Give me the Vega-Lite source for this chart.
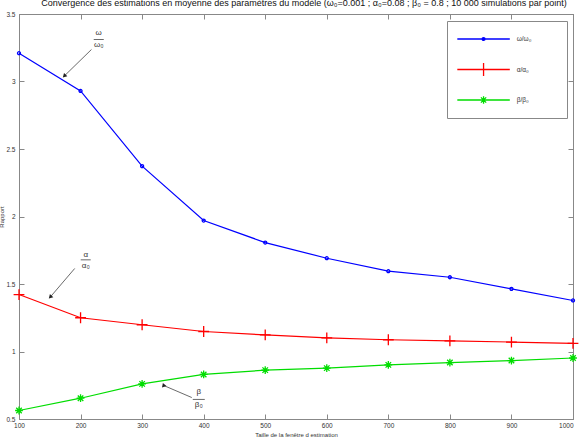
{
  "$schema": "https://vega.github.io/schema/vega-lite/v6.json",
  "width": 554,
  "height": 405,
  "autosize": "none",
  "padding": {"left": 19, "top": 14, "right": 6, "bottom": 23},
  "background": "white",
  "title": {
    "text": "Convergence des estimations en moyenne des paramètres du modèle (ω₀=0.001 ; α₀=0.08 ; β₀ = 0.8 ; 10 000 simulations par point)",
    "font": "Liberation Sans",
    "fontSize": 9,
    "fontWeight": "normal",
    "color": "#111111",
    "anchor": "middle",
    "frame": "group",
    "baseline": "alphabetic",
    "offset": -4,
    "dx": 8
  },
  "datasets": {
    "series": [
      {"x": 100, "value": 3.21, "series": "ω/ω₀"},
      {"x": 200, "value": 2.93, "series": "ω/ω₀"},
      {"x": 300, "value": 2.373, "series": "ω/ω₀"},
      {"x": 400, "value": 1.97, "series": "ω/ω₀"},
      {"x": 500, "value": 1.807, "series": "ω/ω₀"},
      {"x": 600, "value": 1.691, "series": "ω/ω₀"},
      {"x": 700, "value": 1.595, "series": "ω/ω₀"},
      {"x": 800, "value": 1.55, "series": "ω/ω₀"},
      {"x": 900, "value": 1.464, "series": "ω/ω₀"},
      {"x": 1000, "value": 1.378, "series": "ω/ω₀"},
      {"x": 100, "value": 1.422, "series": "α/α₀"},
      {"x": 200, "value": 1.25, "series": "α/α₀"},
      {"x": 300, "value": 1.198, "series": "α/α₀"},
      {"x": 400, "value": 1.148, "series": "α/α₀"},
      {"x": 500, "value": 1.123, "series": "α/α₀"},
      {"x": 600, "value": 1.101, "series": "α/α₀"},
      {"x": 700, "value": 1.087, "series": "α/α₀"},
      {"x": 800, "value": 1.078, "series": "α/α₀"},
      {"x": 900, "value": 1.07, "series": "α/α₀"},
      {"x": 1000, "value": 1.06, "series": "α/α₀"},
      {"x": 100, "value": 0.563, "series": "β/β₀"},
      {"x": 200, "value": 0.654, "series": "β/β₀"},
      {"x": 300, "value": 0.76, "series": "β/β₀"},
      {"x": 400, "value": 0.83, "series": "β/β₀"},
      {"x": 500, "value": 0.862, "series": "β/β₀"},
      {"x": 600, "value": 0.877, "series": "β/β₀"},
      {"x": 700, "value": 0.901, "series": "β/β₀"},
      {"x": 800, "value": 0.918, "series": "β/β₀"},
      {"x": 900, "value": 0.933, "series": "β/β₀"},
      {"x": 1000, "value": 0.952, "series": "β/β₀"}
    ],
    "labels": [
      {"x": 229.5, "y": 3.356, "text": "ω"},
      {"x": 229.5, "y": 3.267, "text": "ω₀"},
      {"x": 208.4, "y": 1.716, "text": "α"},
      {"x": 208.4, "y": 1.637, "text": "α₀"},
      {"x": 392.1, "y": 0.699, "text": "β"},
      {"x": 392.1, "y": 0.605, "text": "β₀"}
    ],
    "bars": [
      {"x": 221.4, "x2": 237.7, "y": 3.311},
      {"x": 200.3, "x2": 216.5, "y": 1.679},
      {"x": 382.3, "x2": 401.8, "y": 0.645}
    ],
    "arrows": [
      {"id": "omega", "x": 217.7, "y": 3.237, "x2": 174.3, "y2": 3.044},
      {"id": "alpha", "x": 190.5, "y": 1.615, "x2": 151.5, "y2": 1.407},
      {"id": "beta", "x": 380.7, "y": 0.659, "x2": 335.2, "y2": 0.748}
    ]
  },
  "config": {
    "view": {"stroke": "#888888", "strokeWidth": 1},
    "axis": {
      "domainColor": "#888888",
      "tickColor": "#888888",
      "tickSize": -5,
      "labelFont": "Liberation Sans",
      "labelFontSize": 6.5,
      "labelColor": "#333333",
      "labelFlush": false,
      "labelOverlap": false,
      "titleFont": "Liberation Sans",
      "titleFontSize": 6,
      "titleFontWeight": "normal",
      "titleColor": "#333333",
      "grid": false
    }
  },
  "resolve": {
    "axis": {"x": "independent", "y": "independent"},
    "scale": {"color": "independent", "shape": "independent"}
  },
  "layer": [
    {
      "mark": {"type": "rule", "color": "#b4b4b4", "strokeWidth": 2},
      "encoding": {
        "y": {"datum": 1, "type": "quantitative", "scale": {"domain": [0.5, 3.5], "nice": false, "zero": false}, "axis": null}
      }
    },
    {
      "data": {"name": "series"},
      "mark": {"type": "line", "strokeWidth": 1.2},
      "encoding": {
        "x": {"field": "x", "type": "quantitative", "scale": {"domain": [100, 1000], "nice": false, "zero": false},
              "axis": {"orient": "bottom", "values": [100, 200, 300, 400, 500, 600, 700, 800, 900, 1000], "format": "d", "labelPadding": 8,
                       "labelAlign": {"expr": "datum.value == 1000 ? 'right' : 'center'"},
                       "title": "Taille de la fenêtre d estimation", "titlePadding": 3}},
        "y": {"field": "value", "type": "quantitative", "scale": {"domain": [0.5, 3.5], "nice": false, "zero": false},
              "axis": {"orient": "left", "values": [0.5, 1, 1.5, 2, 2.5, 3, 3.5], "format": "~g", "labelPadding": 9, "title": "Rapport", "titlePadding": 1}},
        "color": {"field": "series", "type": "nominal", "scale": {"domain": ["ω/ω₀", "α/α₀", "β/β₀"], "range": ["#0000ff", "#ff0000", "#00dd00"]}, "legend": null}
      }
    },
    {
      "data": {"name": "series"},
      "mark": {"type": "point", "filled": false, "strokeWidth": 1.3, "size": 144, "opacity": 1},
      "encoding": {
        "x": {"field": "x", "type": "quantitative", "scale": {"domain": [100, 1000], "nice": false, "zero": false},
              "axis": {"orient": "top", "values": [100, 200, 300, 400, 500, 600, 700, 800, 900, 1000], "labels": false, "title": null}},
        "y": {"field": "value", "type": "quantitative", "scale": {"domain": [0.5, 3.5], "nice": false, "zero": false},
              "axis": {"orient": "right", "values": [0.5, 1, 1.5, 2, 2.5, 3, 3.5], "labels": false, "title": null}},
        "color": {"field": "series", "type": "nominal", "scale": {"domain": ["ω/ω₀", "α/α₀", "β/β₀"], "range": ["#0000ff", "#ff0000", "#00dd00"]}, "legend": null},
        "shape": {"field": "series", "type": "nominal", "scale": {"domain": ["ω/ω₀", "α/α₀", "β/β₀"], "range": [
          "M-0.25,0A0.25,0.25 0 1,0 0.25,0A0.25,0.25 0 1,0 -0.25,0",
          "M-0.9,0L0.9,0M0,-0.9L0,0.9",
          "M-0.65,0L0.65,0M0,-0.65L0,0.65M-0.46,-0.46L0.46,0.46M-0.46,0.46L0.46,-0.46"
        ]}, "legend": null}
      }
    },
    {
      "data": {"name": "series"},
      "transform": [{"filter": "false"}],
      "mark": {"type": "point", "filled": false, "strokeWidth": 1.3},
      "encoding": {
        "x": {"field": "x", "type": "quantitative", "scale": {"domain": [100, 1000], "nice": false, "zero": false}, "axis": null},
        "y": {"field": "value", "type": "quantitative", "scale": {"domain": [0.5, 3.5], "nice": false, "zero": false}, "axis": null},
        "color": {"field": "series", "type": "nominal", "scale": {"domain": ["ω/ω₀", "α/α₀", "β/β₀"], "range": ["#0000ff", "#ff0000", "#00dd00"]},
          "legend": {"orient": "none", "legendX": 428, "legendY": 7, "title": "nnnnnn", "titleOrient": "right", "titleOpacity": 0, "titlePadding": 5,
                     "titleFont": "Liberation Sans", "titleFontSize": 6.5,
                     "padding": 7, "strokeColor": "#888888", "fillColor": "white", "clipHeight": 22, "gridAlign": "all",
                     "symbolSize": 441, "symbolStrokeWidth": 1.3, "symbolOpacity": 1, "labelOffset": 39.7, "rowPadding": 8.5,
                     "labelFont": "Liberation Sans", "labelFontSize": 6.5, "labelColor": "#333333"}},
        "shape": {"field": "series", "type": "nominal", "scale": {"domain": ["ω/ω₀", "α/α₀", "β/β₀"], "range": [
          "M-0.78,0L4.22,0M1.58,0A0.14,0.14 0 1,0 1.86,0A0.14,0.14 0 1,0 1.58,0",
          "M-0.78,0L4.22,0M1.72,-0.62L1.72,0.62",
          "M-0.78,0L4.22,0M1.72,-0.36L1.72,0.36M1.47,-0.25L1.97,0.25M1.47,0.25L1.97,-0.25"
        ]},
          "legend": {"orient": "none", "legendX": 428, "legendY": 7, "title": "nnnnnn", "titleOrient": "right", "titleOpacity": 0, "titlePadding": 5,
                     "titleFont": "Liberation Sans", "titleFontSize": 6.5,
                     "padding": 7, "strokeColor": "#888888", "fillColor": "white", "clipHeight": 22, "gridAlign": "all",
                     "symbolSize": 441, "symbolStrokeWidth": 1.3, "symbolOpacity": 1, "labelOffset": 39.7, "rowPadding": 8.5,
                     "labelFont": "Liberation Sans", "labelFontSize": 6.5, "labelColor": "#333333"}}
      }
    },
    {
      "data": {"name": "labels"},
      "mark": {"type": "text", "font": "Liberation Sans", "fontSize": 8, "color": "#333333", "baseline": "middle", "align": "center"},
      "encoding": {
        "x": {"field": "x", "type": "quantitative", "scale": {"domain": [100, 1000], "nice": false, "zero": false}, "axis": null},
        "y": {"field": "y", "type": "quantitative", "scale": {"domain": [0.5, 3.5], "nice": false, "zero": false}, "axis": null},
        "text": {"field": "text"}
      }
    },
    {
      "data": {"name": "bars"},
      "mark": {"type": "rule", "color": "#444444", "strokeWidth": 0.8},
      "encoding": {
        "x": {"field": "x", "type": "quantitative", "scale": {"domain": [100, 1000], "nice": false, "zero": false}, "axis": null},
        "x2": {"field": "x2"},
        "y": {"field": "y", "type": "quantitative", "scale": {"domain": [0.5, 3.5], "nice": false, "zero": false}, "axis": null}
      }
    },
    {
      "data": {"name": "arrows"},
      "mark": {"type": "rule", "color": "#444444", "strokeWidth": 0.8},
      "encoding": {
        "x": {"field": "x", "type": "quantitative", "scale": {"domain": [100, 1000], "nice": false, "zero": false}, "axis": null},
        "x2": {"field": "x2"},
        "y": {"field": "y", "type": "quantitative", "scale": {"domain": [0.5, 3.5], "nice": false, "zero": false}, "axis": null},
        "y2": {"field": "y2"}
      }
    },
    {
      "data": {"name": "arrows"},
      "mark": {"type": "point", "shape": "triangle", "filled": true, "color": "#222222", "size": 22, "opacity": 1},
      "encoding": {
        "x": {"field": "x2", "type": "quantitative", "scale": {"domain": [100, 1000], "nice": false, "zero": false}, "axis": null},
        "y": {"field": "y2", "type": "quantitative", "scale": {"domain": [0.5, 3.5], "nice": false, "zero": false}, "axis": null},
        "angle": {"field": "id", "type": "nominal", "scale": {"domain": ["omega", "alpha", "beta"], "range": [225, 221, 293]}, "legend": null}
      }
    }
  ]
}
